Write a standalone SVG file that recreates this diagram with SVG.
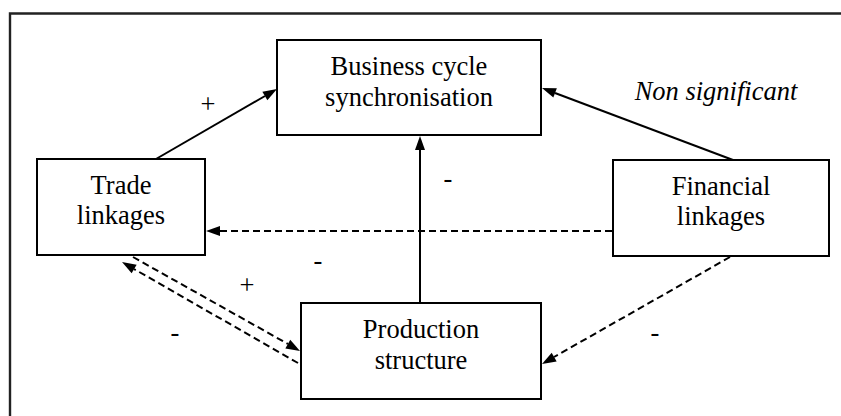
<svg xmlns="http://www.w3.org/2000/svg" width="841" height="416" viewBox="0 0 841 416">
<style>
.box{fill:#fff;stroke:#000;stroke-width:2}
.ln{fill:none;stroke:#000;stroke-width:2}
.d{stroke-dasharray:7 4}
.ah{fill:#000;stroke:none}
</style>
<rect width="841" height="416" fill="#fff"/>
<path d="M10,416 L10,13.5 L841,13.5" fill="none" stroke="#222" stroke-width="2.4"/>
<g id="connectors">
<line class="ln" x1="156" y1="159" x2="265" y2="96"/>
<polygon class="ah" points="277,89 267.39,100.34 262.38,91.68"/>
<line class="ln" x1="733" y1="160" x2="555" y2="93"/>
<polygon class="ah" points="542,88 556.86,88.26 553.34,97.62"/>
<line class="ln" x1="420" y1="303" x2="420" y2="150"/>
<polygon class="ah" points="420,136 415,150 425,150"/>
<line class="ln d" x1="612" y1="231" x2="220" y2="231"/>
<polygon class="ah" points="206,231 220,226 220,236"/>
<line class="ln d" x1="730" y1="257" x2="554" y2="357"/>
<polygon class="ah" points="542,364 556.64,361.42 551.70,352.72"/>
<line class="ln d" x1="133" y1="257" x2="288" y2="344"/>
<polygon class="ah" points="300,351 285.35,348.49 290.25,339.77"/>
<line class="ln d" x1="298" y1="363" x2="134" y2="269"/>
<polygon class="ah" points="122,262 136.63,264.63 131.65,273.31"/>
</g>
<g id="labels" font-family="Liberation Serif" font-size="26.5" text-anchor="middle">
<text x="208" y="113" font-family="Liberation Serif">+</text>
<text x="448" y="187" font-family="Liberation Serif">-</text>
<text x="318" y="269" font-family="Liberation Serif">-</text>
<text x="247" y="294" font-family="Liberation Serif">+</text>
<text x="175" y="341" font-family="Liberation Serif">-</text>
<text x="655" y="341" font-family="Liberation Serif">-</text>
<text x="716" y="100" font-family="Liberation Serif" font-style="italic">Non significant</text>
</g>
<g id="business" font-family="Liberation Serif" font-size="26.5" text-anchor="middle">
<rect class="box" x="277" y="40" width="264" height="95"/>
<text x="409" y="75" font-family="Liberation Serif">Business cycle</text>
<text x="409" y="106" font-family="Liberation Serif">synchronisation</text>
</g>
<g id="trade" font-family="Liberation Serif" font-size="26.5" text-anchor="middle">
<rect class="box" x="37" y="159" width="168" height="96"/>
<text x="121" y="194" font-family="Liberation Serif">Trade</text>
<text x="121" y="224" font-family="Liberation Serif">linkages</text>
</g>
<g id="financial" font-family="Liberation Serif" font-size="26.5" text-anchor="middle">
<rect class="box" x="613" y="160" width="216" height="96"/>
<text x="721" y="195" font-family="Liberation Serif">Financial</text>
<text x="721" y="225" font-family="Liberation Serif">linkages</text>
</g>
<g id="production" font-family="Liberation Serif" font-size="26.5" text-anchor="middle">
<rect class="box" x="301" y="303" width="240" height="96"/>
<text x="421" y="338" font-family="Liberation Serif">Production</text>
<text x="421" y="369" font-family="Liberation Serif">structure</text>
</g>
</svg>
